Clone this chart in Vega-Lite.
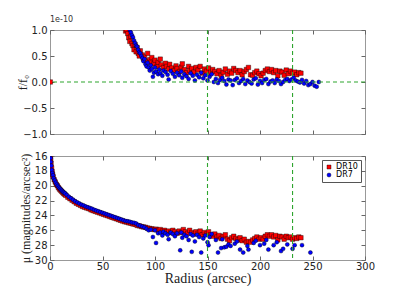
{
"$schema":"https://vega.github.io/schema/vega-lite/v6.json",
"background":"white",
"padding":{"left":15,"top":15,"right":5,"bottom":0},
"spacing":22,
"bounds":"flush",
"datasets":{
"top":[
{"s":"DR10","r":0.3,"f":0},{"s":"DR10","r":72,"f":0.98},{"s":"DR10","r":73,"f":1.0},{"s":"DR10","r":74,"f":0.93},{"s":"DR10","r":75,"f":0.85},{"s":"DR10","r":76,"f":0.78},{"s":"DR10","r":77,"f":0.88},{"s":"DR10","r":78,"f":0.74},{"s":"DR10","r":79,"f":0.70},{"s":"DR10","r":80,"f":0.62},{"s":"DR10","r":81,"f":0.72},{"s":"DR10","r":82,"f":0.58},{"s":"DR10","r":83,"f":0.66},{"s":"DR10","r":84,"f":0.55},{"s":"DR10","r":85,"f":0.50},{"s":"DR10","r":86,"f":0.60},{"s":"DR10","r":88,"f":0.52},{"s":"DR10","r":89,"f":0.45},{"s":"DR10","r":90,"f":0.48},{"s":"DR10","r":92,"f":0.40},{"s":"DR10","r":93,"f":0.55},{"s":"DR10","r":95,"f":0.43},{"s":"DR10","r":96,"f":0.38},{"s":"DR10","r":97,"f":0.47},{"s":"DR10","r":99,"f":0.35},{"s":"DR10","r":100,"f":0.42},{"s":"DR10","r":102,"f":0.30},{"s":"DR10","r":103,"f":0.38},{"s":"DR10","r":105,"f":0.44},{"s":"DR10","r":106,"f":0.33},{"s":"DR10","r":108,"f":0.28},{"s":"DR10","r":110,"f":0.36},{"s":"DR10","r":111,"f":0.30},{"s":"DR10","r":113,"f":0.25},{"s":"DR10","r":114,"f":0.34},{"s":"DR10","r":116,"f":0.27},{"s":"DR10","r":118,"f":0.22},{"s":"DR10","r":120,"f":0.31},{"s":"DR10","r":121,"f":0.26},{"s":"DR10","r":123,"f":0.20},{"s":"DR10","r":125,"f":0.29},{"s":"DR10","r":126,"f":0.35},{"s":"DR10","r":128,"f":0.24},{"s":"DR10","r":130,"f":0.18},{"s":"DR10","r":132,"f":0.30},{"s":"DR10","r":133,"f":0.22},{"s":"DR10","r":135,"f":0.26},{"s":"DR10","r":137,"f":0.19},{"s":"DR10","r":139,"f":0.28},{"s":"DR10","r":141,"f":0.23},{"s":"DR10","r":143,"f":0.30},{"s":"DR10","r":145,"f":0.17},{"s":"DR10","r":147,"f":0.25},{"s":"DR10","r":149,"f":0.21},{"s":"DR10","r":151,"f":0.27},{"s":"DR10","r":153,"f":0.18},{"s":"DR10","r":155,"f":0.24},{"s":"DR10","r":157,"f":0.20},{"s":"DR10","r":159,"f":0.16},{"s":"DR10","r":161,"f":0.22},{"s":"DR10","r":163,"f":0.13},{"s":"DR10","r":165,"f":0.19},{"s":"DR10","r":167,"f":0.25},{"s":"DR10","r":169,"f":0.15},{"s":"DR10","r":171,"f":0.21},{"s":"DR10","r":173,"f":0.17},{"s":"DR10","r":175,"f":0.26},{"s":"DR10","r":177,"f":0.22},{"s":"DR10","r":179,"f":0.18},{"s":"DR10","r":181,"f":0.22},{"s":"DR10","r":183,"f":0.14},{"s":"DR10","r":185,"f":0.20},{"s":"DR10","r":187,"f":0.24},{"s":"DR10","r":189,"f":0.28},{"s":"DR10","r":191,"f":0.14},{"s":"DR10","r":193,"f":0.13},{"s":"DR10","r":195,"f":0.18},{"s":"DR10","r":197,"f":0.21},{"s":"DR10","r":199,"f":0.16},{"s":"DR10","r":201,"f":0.12},{"s":"DR10","r":203,"f":0.17},{"s":"DR10","r":205,"f":0.22},{"s":"DR10","r":207,"f":0.25},{"s":"DR10","r":209,"f":0.20},{"s":"DR10","r":211,"f":0.24},{"s":"DR10","r":213,"f":0.18},{"s":"DR10","r":215,"f":0.22},{"s":"DR10","r":217,"f":0.12},{"s":"DR10","r":219,"f":0.21},{"s":"DR10","r":221,"f":0.19},{"s":"DR10","r":223,"f":0.13},{"s":"DR10","r":225,"f":0.23},{"s":"DR10","r":227,"f":0.16},{"s":"DR10","r":229,"f":0.21},{"s":"DR10","r":231,"f":0.17},{"s":"DR10","r":233,"f":0.19},{"s":"DR10","r":235,"f":0.14},{"s":"DR10","r":237,"f":0.18},{"s":"DR10","r":239,"f":0.17},
{"s":"DR7","r":76,"f":1.0},{"s":"DR7","r":77,"f":0.95},{"s":"DR7","r":78,"f":0.9},{"s":"DR7","r":79,"f":0.86},{"s":"DR7","r":80,"f":0.80},{"s":"DR7","r":81,"f":0.75},{"s":"DR7","r":82,"f":0.70},{"s":"DR7","r":83,"f":0.68},{"s":"DR7","r":84,"f":0.62},{"s":"DR7","r":85,"f":0.57},{"s":"DR7","r":86,"f":0.55},{"s":"DR7","r":87,"f":0.50},{"s":"DR7","r":88,"f":0.46},{"s":"DR7","r":89,"f":0.40},{"s":"DR7","r":90,"f":0.44},{"s":"DR7","r":91,"f":0.34},{"s":"DR7","r":92,"f":0.30},{"s":"DR7","r":93,"f":0.37},{"s":"DR7","r":94,"f":0.28},{"s":"DR7","r":95,"f":0.22},{"s":"DR7","r":96,"f":0.32},{"s":"DR7","r":97,"f":0.25},{"s":"DR7","r":98,"f":0.10},{"s":"DR7","r":99,"f":0.18},{"s":"DR7","r":100,"f":0.28},{"s":"DR7","r":101,"f":0.20},{"s":"DR7","r":103,"f":0.15},{"s":"DR7","r":104,"f":0.24},{"s":"DR7","r":105,"f":0.17},{"s":"DR7","r":107,"f":0.12},{"s":"DR7","r":108,"f":0.22},{"s":"DR7","r":110,"f":0.19},{"s":"DR7","r":112,"f":0.14},{"s":"DR7","r":113,"f":0.05},{"s":"DR7","r":115,"f":0.21},{"s":"DR7","r":117,"f":0.16},{"s":"DR7","r":119,"f":0.10},{"s":"DR7","r":121,"f":0.18},{"s":"DR7","r":123,"f":0.13},{"s":"DR7","r":125,"f":0.20},{"s":"DR7","r":126,"f":0.08},{"s":"DR7","r":128,"f":0.15},{"s":"DR7","r":130,"f":0.11},{"s":"DR7","r":132,"f":0.06},{"s":"DR7","r":134,"f":0.17},{"s":"DR7","r":136,"f":0.12},{"s":"DR7","r":138,"f":0.03},{"s":"DR7","r":140,"f":0.14},{"s":"DR7","r":142,"f":0.09},{"s":"DR7","r":144,"f":0.18},{"s":"DR7","r":146,"f":0.07},{"s":"DR7","r":148,"f":0.13},{"s":"DR7","r":150,"f":0.03},{"s":"DR7","r":152,"f":0.10},{"s":"DR7","r":154,"f":0.15},{"s":"DR7","r":156,"f":0.0},{"s":"DR7","r":158,"f":0.06},{"s":"DR7","r":160,"f":-0.02},{"s":"DR7","r":162,"f":0.04},{"s":"DR7","r":164,"f":0.08},{"s":"DR7","r":166,"f":0.02},{"s":"DR7","r":168,"f":-0.05},{"s":"DR7","r":170,"f":0.05},{"s":"DR7","r":172,"f":0.03},{"s":"DR7","r":174,"f":-0.06},{"s":"DR7","r":176,"f":0.04},{"s":"DR7","r":178,"f":0.07},{"s":"DR7","r":180,"f":-0.02},{"s":"DR7","r":182,"f":0.02},{"s":"DR7","r":184,"f":0.06},{"s":"DR7","r":186,"f":-0.04},{"s":"DR7","r":188,"f":0.03},{"s":"DR7","r":190,"f":0.0},{"s":"DR7","r":192,"f":-0.03},{"s":"DR7","r":194,"f":0.05},{"s":"DR7","r":196,"f":0.07},{"s":"DR7","r":198,"f":-0.05},{"s":"DR7","r":200,"f":0.02},{"s":"DR7","r":202,"f":-0.02},{"s":"DR7","r":204,"f":0.04},{"s":"DR7","r":206,"f":0.06},{"s":"DR7","r":208,"f":-0.04},{"s":"DR7","r":210,"f":0.01},{"s":"DR7","r":212,"f":0.03},{"s":"DR7","r":214,"f":-0.02},{"s":"DR7","r":216,"f":0.05},{"s":"DR7","r":218,"f":0.02},{"s":"DR7","r":220,"f":-0.04},{"s":"DR7","r":222,"f":0.0},{"s":"DR7","r":224,"f":0.04},{"s":"DR7","r":226,"f":0.06},{"s":"DR7","r":228,"f":0.02},{"s":"DR7","r":230,"f":0.05},{"s":"DR7","r":232,"f":0.08},{"s":"DR7","r":234,"f":0.03},{"s":"DR7","r":236,"f":0.01},{"s":"DR7","r":238,"f":-0.01},{"s":"DR7","r":240,"f":0.04},{"s":"DR7","r":242,"f":-0.03},{"s":"DR7","r":244,"f":0.02},{"s":"DR7","r":246,"f":-0.06},{"s":"DR7","r":248,"f":-0.04},{"s":"DR7","r":250,"f":0.0},{"s":"DR7","r":252,"f":-0.07},{"s":"DR7","r":254,"f":-0.09},{"s":"DR7","r":256,"f":0.0}
],
"bot":[
{"s":"DR10","r":0.3,"mu":16.0},{"s":"DR10","r":0.7,"mu":16.5},{"s":"DR10","r":1.0,"mu":17.0},{"s":"DR10","r":1.5,"mu":17.6},{"s":"DR10","r":2,"mu":18.1},{"s":"DR10","r":2.5,"mu":18.5},{"s":"DR10","r":3,"mu":18.8},{"s":"DR10","r":4,"mu":19.2},{"s":"DR10","r":5,"mu":19.5},{"s":"DR10","r":6,"mu":19.8},{"s":"DR10","r":7,"mu":20.0},{"s":"DR10","r":8,"mu":20.25},{"s":"DR10","r":9,"mu":20.45},{"s":"DR10","r":10,"mu":20.6},{"s":"DR10","r":11,"mu":20.75},{"s":"DR10","r":12,"mu":20.9},{"s":"DR10","r":13,"mu":21.05},{"s":"DR10","r":14,"mu":21.15},{"s":"DR10","r":15,"mu":21.3},{"s":"DR10","r":17,"mu":21.55},{"s":"DR10","r":19,"mu":21.75},{"s":"DR10","r":21,"mu":21.95},{"s":"DR10","r":23,"mu":22.15},{"s":"DR10","r":25,"mu":22.35},{"s":"DR10","r":27,"mu":22.5},{"s":"DR10","r":29,"mu":22.65},{"s":"DR10","r":31,"mu":22.8},{"s":"DR10","r":33,"mu":22.9},{"s":"DR10","r":35,"mu":23.0},{"s":"DR10","r":37,"mu":23.1},{"s":"DR10","r":39,"mu":23.25},{"s":"DR10","r":41,"mu":23.35},{"s":"DR10","r":43,"mu":23.45},{"s":"DR10","r":45,"mu":23.55},{"s":"DR10","r":47,"mu":23.65},{"s":"DR10","r":49,"mu":23.75},{"s":"DR10","r":51,"mu":23.85},{"s":"DR10","r":53,"mu":23.95},{"s":"DR10","r":55,"mu":24.05},{"s":"DR10","r":57,"mu":24.15},{"s":"DR10","r":59,"mu":24.25},{"s":"DR10","r":61,"mu":24.35},{"s":"DR10","r":63,"mu":24.45},{"s":"DR10","r":65,"mu":24.55},{"s":"DR10","r":67,"mu":24.65},{"s":"DR10","r":69,"mu":24.75},{"s":"DR10","r":71,"mu":24.85},{"s":"DR10","r":73,"mu":24.9},{"s":"DR10","r":75,"mu":25.0},{"s":"DR10","r":77,"mu":25.05},{"s":"DR10","r":79,"mu":25.15},{"s":"DR10","r":81,"mu":25.2},{"s":"DR10","r":83,"mu":25.35},{"s":"DR10","r":85,"mu":25.4},{"s":"DR10","r":87,"mu":25.5},{"s":"DR10","r":89,"mu":25.55},{"s":"DR10","r":91,"mu":25.6},{"s":"DR10","r":93,"mu":25.7},{"s":"DR10","r":95,"mu":25.75},{"s":"DR10","r":97,"mu":25.8},{"s":"DR10","r":99,"mu":25.9},{"s":"DR10","r":101,"mu":25.85},{"s":"DR10","r":103,"mu":26.0},{"s":"DR10","r":105,"mu":25.9},{"s":"DR10","r":107,"mu":26.1},{"s":"DR10","r":109,"mu":26.0},{"s":"DR10","r":111,"mu":26.2},{"s":"DR10","r":113,"mu":26.1},{"s":"DR10","r":115,"mu":26.3},{"s":"DR10","r":117,"mu":26.0},{"s":"DR10","r":119,"mu":26.2},{"s":"DR10","r":121,"mu":26.4},{"s":"DR10","r":123,"mu":26.1},{"s":"DR10","r":125,"mu":26.3},{"s":"DR10","r":127,"mu":25.9},{"s":"DR10","r":129,"mu":26.2},{"s":"DR10","r":131,"mu":26.4},{"s":"DR10","r":133,"mu":26.0},{"s":"DR10","r":135,"mu":26.3},{"s":"DR10","r":137,"mu":26.5},{"s":"DR10","r":139,"mu":26.2},{"s":"DR10","r":141,"mu":26.4},{"s":"DR10","r":143,"mu":26.1},{"s":"DR10","r":145,"mu":26.6},{"s":"DR10","r":147,"mu":26.3},{"s":"DR10","r":149,"mu":26.5},{"s":"DR10","r":151,"mu":26.2},{"s":"DR10","r":153,"mu":26.6},{"s":"DR10","r":155,"mu":26.8},{"s":"DR10","r":157,"mu":26.5},{"s":"DR10","r":159,"mu":26.9},{"s":"DR10","r":161,"mu":26.7},{"s":"DR10","r":163,"mu":27.1},{"s":"DR10","r":165,"mu":26.8},{"s":"DR10","r":167,"mu":26.6},{"s":"DR10","r":169,"mu":27.2},{"s":"DR10","r":171,"mu":27.4},{"s":"DR10","r":173,"mu":27.0},{"s":"DR10","r":175,"mu":26.8},{"s":"DR10","r":177,"mu":27.1},{"s":"DR10","r":179,"mu":27.3},{"s":"DR10","r":181,"mu":27.0},{"s":"DR10","r":183,"mu":27.4},{"s":"DR10","r":185,"mu":27.2},{"s":"DR10","r":187,"mu":27.6},{"s":"DR10","r":189,"mu":27.5},{"s":"DR10","r":191,"mu":27.6},{"s":"DR10","r":193,"mu":27.3},{"s":"DR10","r":195,"mu":27.1},{"s":"DR10","r":197,"mu":26.9},{"s":"DR10","r":199,"mu":27.2},{"s":"DR10","r":201,"mu":27.0},{"s":"DR10","r":203,"mu":27.2},{"s":"DR10","r":205,"mu":26.8},{"s":"DR10","r":207,"mu":26.6},{"s":"DR10","r":209,"mu":26.8},{"s":"DR10","r":211,"mu":26.6},{"s":"DR10","r":213,"mu":26.9},{"s":"DR10","r":215,"mu":26.7},{"s":"DR10","r":217,"mu":27.3},{"s":"DR10","r":219,"mu":26.8},{"s":"DR10","r":221,"mu":26.9},{"s":"DR10","r":223,"mu":27.2},{"s":"DR10","r":225,"mu":26.8},{"s":"DR10","r":227,"mu":27.0},{"s":"DR10","r":229,"mu":26.9},{"s":"DR10","r":231,"mu":27.2},{"s":"DR10","r":233,"mu":27.0},{"s":"DR10","r":235,"mu":27.1},{"s":"DR10","r":237,"mu":26.9},{"s":"DR10","r":239,"mu":27.0},
{"s":"DR7","r":0.2,"mu":15.9},{"s":"DR7","r":0.5,"mu":16.3},{"s":"DR7","r":0.8,"mu":16.8},{"s":"DR7","r":1.2,"mu":17.3},{"s":"DR7","r":1.7,"mu":17.9},{"s":"DR7","r":2.2,"mu":18.3},{"s":"DR7","r":2.8,"mu":18.6},{"s":"DR7","r":3.5,"mu":19.0},{"s":"DR7","r":4.5,"mu":19.3},{"s":"DR7","r":5.5,"mu":19.6},{"s":"DR7","r":6.5,"mu":19.85},{"s":"DR7","r":7.5,"mu":20.05},{"s":"DR7","r":8.5,"mu":20.25},{"s":"DR7","r":9.5,"mu":20.4},{"s":"DR7","r":10.5,"mu":20.55},{"s":"DR7","r":11.5,"mu":20.7},{"s":"DR7","r":12.5,"mu":20.85},{"s":"DR7","r":13.5,"mu":20.95},{"s":"DR7","r":14.5,"mu":21.05},{"s":"DR7","r":16,"mu":21.25},{"s":"DR7","r":18,"mu":21.5},{"s":"DR7","r":20,"mu":21.7},{"s":"DR7","r":22,"mu":21.9},{"s":"DR7","r":24,"mu":22.1},{"s":"DR7","r":26,"mu":22.25},{"s":"DR7","r":28,"mu":22.4},{"s":"DR7","r":30,"mu":22.55},{"s":"DR7","r":32,"mu":22.65},{"s":"DR7","r":34,"mu":22.8},{"s":"DR7","r":36,"mu":22.9},{"s":"DR7","r":38,"mu":23.0},{"s":"DR7","r":40,"mu":23.1},{"s":"DR7","r":42,"mu":23.25},{"s":"DR7","r":44,"mu":23.35},{"s":"DR7","r":46,"mu":23.45},{"s":"DR7","r":48,"mu":23.55},{"s":"DR7","r":50,"mu":23.65},{"s":"DR7","r":52,"mu":23.75},{"s":"DR7","r":54,"mu":23.85},{"s":"DR7","r":56,"mu":23.95},{"s":"DR7","r":58,"mu":24.05},{"s":"DR7","r":60,"mu":24.15},{"s":"DR7","r":62,"mu":24.25},{"s":"DR7","r":64,"mu":24.35},{"s":"DR7","r":66,"mu":24.45},{"s":"DR7","r":68,"mu":24.55},{"s":"DR7","r":70,"mu":24.65},{"s":"DR7","r":72,"mu":24.75},{"s":"DR7","r":74,"mu":24.8},{"s":"DR7","r":76,"mu":24.85},{"s":"DR7","r":78,"mu":24.95},{"s":"DR7","r":80,"mu":25.0},{"s":"DR7","r":82,"mu":25.1},{"s":"DR7","r":84,"mu":25.3},{"s":"DR7","r":86,"mu":25.4},{"s":"DR7","r":88,"mu":25.5},{"s":"DR7","r":90,"mu":25.6},{"s":"DR7","r":92,"mu":25.8},{"s":"DR7","r":94,"mu":26.0},{"s":"DR7","r":96,"mu":25.9},{"s":"DR7","r":98,"mu":26.9},{"s":"DR7","r":100,"mu":26.0},{"s":"DR7","r":101,"mu":27.7},{"s":"DR7","r":103,"mu":26.4},{"s":"DR7","r":105,"mu":26.3},{"s":"DR7","r":107,"mu":26.7},{"s":"DR7","r":108,"mu":26.2},{"s":"DR7","r":110,"mu":26.4},{"s":"DR7","r":112,"mu":26.6},{"s":"DR7","r":113,"mu":27.2},{"s":"DR7","r":115,"mu":26.3},{"s":"DR7","r":117,"mu":26.5},{"s":"DR7","r":119,"mu":26.8},{"s":"DR7","r":121,"mu":26.4},{"s":"DR7","r":124,"mu":28.7},{"s":"DR7","r":125,"mu":26.3},{"s":"DR7","r":126,"mu":27.0},{"s":"DR7","r":128,"mu":26.6},{"s":"DR7","r":130,"mu":26.8},{"s":"DR7","r":132,"mu":27.3},{"s":"DR7","r":134,"mu":26.5},{"s":"DR7","r":135,"mu":28.9},{"s":"DR7","r":136,"mu":26.7},{"s":"DR7","r":138,"mu":27.5},{"s":"DR7","r":140,"mu":26.6},{"s":"DR7","r":142,"mu":26.9},{"s":"DR7","r":144,"mu":29.0},{"s":"DR7","r":146,"mu":27.1},{"s":"DR7","r":148,"mu":26.7},{"s":"DR7","r":150,"mu":27.6},{"s":"DR7","r":151,"mu":28.0},{"s":"DR7","r":152,"mu":26.9},{"s":"DR7","r":154,"mu":26.5},{"s":"DR7","r":158,"mu":27.3},{"s":"DR7","r":160,"mu":29.0},{"s":"DR7","r":163,"mu":28.4},{"s":"DR7","r":164,"mu":27.2},{"s":"DR7","r":166,"mu":28.3},{"s":"DR7","r":168,"mu":28.2},{"s":"DR7","r":170,"mu":27.9},{"s":"DR7","r":172,"mu":28.1},{"s":"DR7","r":176,"mu":27.8},{"s":"DR7","r":178,"mu":27.5},{"s":"DR7","r":181,"mu":28.6},{"s":"DR7","r":184,"mu":29.0},{"s":"DR7","r":188,"mu":28.1},{"s":"DR7","r":189,"mu":28.6},{"s":"DR7","r":194,"mu":27.7},{"s":"DR7","r":196,"mu":27.4},{"s":"DR7","r":200,"mu":28.0},{"s":"DR7","r":204,"mu":27.8},{"s":"DR7","r":206,"mu":27.3},{"s":"DR7","r":208,"mu":28.6},{"s":"DR7","r":213,"mu":28.0},{"s":"DR7","r":216,"mu":27.6},{"s":"DR7","r":220,"mu":28.8},{"s":"DR7","r":222,"mu":28.5},{"s":"DR7","r":226,"mu":27.9},{"s":"DR7","r":231,"mu":28.5},{"s":"DR7","r":233,"mu":28.0},{"s":"DR7","r":240,"mu":28.0},{"s":"DR7","r":248,"mu":29.0}
],
"vlines":[{"r":150},{"r":231}],
"hline":[{"f":0}]
},
"vconcat":[
{
"width":315,"height":104,
"title":{"text":"1e-10","anchor":"start","frame":"group","fontSize":8,"font":"DejaVu Sans","fontWeight":"normal","color":"#333","offset":1},
"layer":[
{"data":{"name":"top"},"transform":[{"filter":"datum.s === 'DR10'"}],
"mark":{"type":"point","filled":true,"size":20,"opacity":1,"stroke":"black","strokeWidth":0.4,"clip":true},
"encoding":{
"x":{"field":"r","type":"quantitative","scale":{"domain":[0,300],"nice":false,"zero":false},"axis":{"orient":"bottom","labels":false,"title":null,"values":[0,50,100,150,200,250,300]}},
"y":{"field":"f","type":"quantitative","scale":{"domain":[-1,1],"nice":false,"zero":false},"axis":{"orient":"left","values":[-1,-0.5,0,0.5,1],"format":".1f","title":"f/f₀","titleFontSize":12,"titleX":-28,"titleY":52,"titleAngle":-90,"titleAlign":"center","titleBaseline":"middle"}},
"color":{"field":"s","type":"nominal","scale":{"domain":["DR10","DR7"],"range":["#ff0000","#0000ff"]},"legend":null},
"shape":{"field":"s","type":"nominal","scale":{"domain":["DR10","DR7"],"range":["square","circle"]},"legend":null}}},
{"data":{"name":"top"},"transform":[{"filter":"datum.s === 'DR7'"}],
"mark":{"type":"point","filled":true,"size":16,"opacity":1,"stroke":"black","strokeWidth":0.4,"clip":true},
"encoding":{
"x":{"field":"r","type":"quantitative","scale":{"domain":[0,300],"nice":false,"zero":false},"axis":null},
"y":{"field":"f","type":"quantitative","scale":{"domain":[-1,1],"nice":false,"zero":false},"axis":null},
"color":{"field":"s","type":"nominal","scale":{"domain":["DR10","DR7"],"range":["#ff0000","#0000ff"]},"legend":null},
"shape":{"field":"s","type":"nominal","scale":{"domain":["DR10","DR7"],"range":["square","circle"]},"legend":null}}},
{"data":{"name":"hline"},
"mark":{"type":"rule","color":"#2ea52e","strokeDash":[4,3],"strokeWidth":1.1},
"encoding":{"y":{"field":"f","type":"quantitative","scale":{"domain":[-1,1],"nice":false,"zero":false},"axis":{"orient":"right","labels":false,"title":null,"values":[-1,-0.5,0,0.5,1]}}}},
{"data":{"name":"vlines"},
"mark":{"type":"rule","color":"#2ea52e","strokeDash":[4,3],"strokeWidth":1.1},
"encoding":{"x":{"field":"r","type":"quantitative","scale":{"domain":[0,300],"nice":false,"zero":false},"axis":{"orient":"top","labels":false,"title":null,"values":[0,50,100,150,200,250,300]}}}}
],
"resolve":{"axis":{"x":"independent","y":"independent"}}
},
{
"width":315,"height":104,
"layer":[
{"data":{"name":"bot"},"transform":[{"filter":"datum.s === 'DR10'"}],
"mark":{"type":"point","filled":true,"size":20,"opacity":1,"stroke":"black","strokeWidth":0.4,"clip":true},
"encoding":{
"x":{"field":"r","type":"quantitative","scale":{"domain":[0,300],"nice":false,"zero":false},"axis":{"orient":"bottom","values":[0,50,100,150,200,250,300],"title":"Radius (arcsec)","titleFontSize":14,"titlePadding":0,"labelPadding":5}},
"y":{"field":"mu","type":"quantitative","scale":{"domain":[16,30],"nice":false,"zero":false,"reverse":true},"axis":{"orient":"left","values":[16,18,20,22,24,26,28,30],"title":"μ (magnitudes/arcsec²)","titleFontSize":12,"titleX":-25,"titleY":52,"titleAngle":-90,"titleAlign":"center","titleBaseline":"middle"}},
"color":{"field":"s","type":"nominal","scale":{"domain":["DR10","DR7"],"range":["#ff0000","#0000ff"]},"legend":{"orient":"top-right","offset":4,"title":null,"labelFont":"DejaVu Sans","labelFontSize":8,"symbolSize":16,"padding":3,"strokeColor":"#555","fillColor":"white","rowPadding":0,"labelOffset":3,"symbolStrokeColor":"black","symbolStrokeWidth":0.4}},
"shape":{"field":"s","type":"nominal","scale":{"domain":["DR10","DR7"],"range":["square","circle"]},"legend":{"orient":"top-right","offset":4,"title":null,"labelFont":"DejaVu Sans","labelFontSize":8,"symbolSize":16,"padding":3,"strokeColor":"#555","fillColor":"white","rowPadding":0,"labelOffset":3,"symbolStrokeColor":"black","symbolStrokeWidth":0.4}}}},
{"data":{"name":"bot"},"transform":[{"filter":"datum.s === 'DR7'"}],
"mark":{"type":"point","filled":true,"size":16,"opacity":1,"stroke":"black","strokeWidth":0.4,"clip":true},
"encoding":{
"x":{"field":"r","type":"quantitative","scale":{"domain":[0,300],"nice":false,"zero":false},"axis":null},
"y":{"field":"mu","type":"quantitative","scale":{"domain":[16,30],"nice":false,"zero":false,"reverse":true},"axis":{"orient":"right","labels":false,"title":null,"values":[16,18,20,22,24,26,28,30]}},
"color":{"field":"s","type":"nominal","scale":{"domain":["DR10","DR7"],"range":["#ff0000","#0000ff"]}},
"shape":{"field":"s","type":"nominal","scale":{"domain":["DR10","DR7"],"range":["square","circle"]}}}},
{"data":{"name":"vlines"},
"mark":{"type":"rule","color":"#2ea52e","strokeDash":[4,3],"strokeWidth":1.1},
"encoding":{"x":{"field":"r","type":"quantitative","scale":{"domain":[0,300],"nice":false,"zero":false},"axis":{"orient":"top","labels":false,"title":null,"values":[0,50,100,150,200,250,300]}}}}
],
"resolve":{"axis":{"x":"independent","y":"independent"}}
}
],
"resolve":{"scale":{"color":"independent","shape":"independent"},"legend":{"color":"independent","shape":"independent"}},
"config":{
"view":{"stroke":"#999","strokeWidth":1},
"axis":{"domain":false,"grid":false,"ticks":true,"tickColor":"#666","tickSize":-4,"labelPadding":7,"labelFont":"DejaVu Sans","labelFontSize":10,"labelColor":"#222","labelFlush":false,"labelOverlap":false,"titleFont":"Liberation Serif","titleFontWeight":"normal","titleColor":"#222"}
}
}
